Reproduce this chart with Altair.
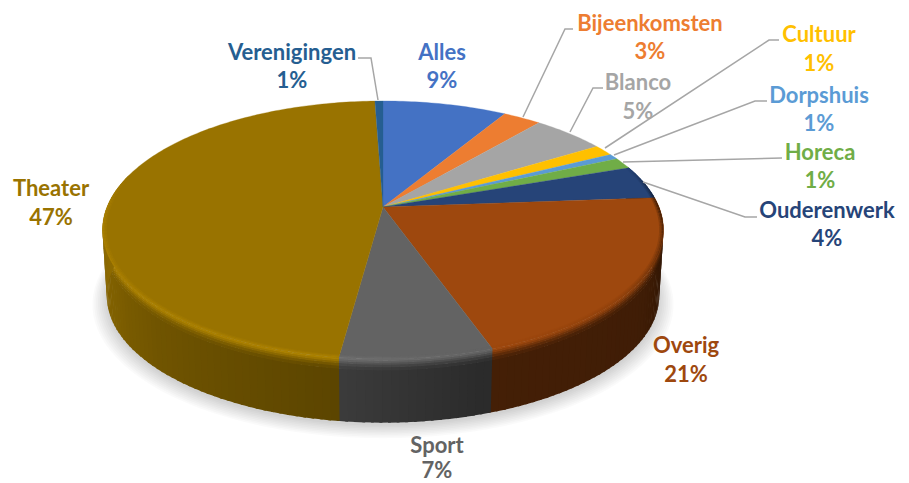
import numpy as np
import altair as alt

# ---- chart values
names = ["Alles", "Bijeenkomsten", "Blanco", "Cultuur", "Dorpshuis", "Horeca",
         "Ouderenwerk", "Overig", "Sport", "Theater", "Verenigingen"]
values = [8.5, 2.6, 5.0, 1.4, 0.7, 1.4, 4.2, 20.85, 7.45, 47.35, 0.55]
labels = ["9%", "3%", "5%", "1%", "1%", "1%", "4%", "21%", "7%", "47%", "1%"]
colors = ["#4472c4", "#ed7d31", "#a5a5a5", "#ffc000", "#5b9bd5", "#70ad47",
          "#264478", "#9e480e", "#636363", "#997300", "#255e91"]

# ---- label placement (page pixels): centre x, name y, percent y
label_x = [442, 650, 638, 819, 819, 820, 827, 686, 437, 51, 292]
name_y = [53, 24, 83, 35, 96, 153, 211, 346, 446, 189, 53]
pct_y = [81, 52, 112, 64, 124, 181, 239, 375, 471, 218, 81]

# ---- leader lines (page pixels)
leaders = {
    "Verenigingen": [(358, 58), (371, 58), (378, 100)],
    "Bijeenkomsten": [(573, 29), (565, 29), (523, 117)],
    "Blanco": [(603, 88), (593, 88), (570, 132)],
    "Cultuur": [(779, 40), (769, 40), (605, 148)],
    "Dorpshuis": [(767, 101), (755, 101), (614, 155)],
    "Horeca": [(782, 158), (623, 162)],
    "Ouderenwerk": [(757, 217), (745, 217), (643, 182)],
}

M = 8  # page margin
X0, Y0, A, B, K = 383 - M, 207 - M, 276.0, 124.9, -0.178
DEPTH, BOT = 66.0, 0.985


def proj(deg, r=1.0):
    t = np.radians(deg)
    u, v = np.sin(t) * r, -np.cos(t) * r
    w = 1 + K * v
    return A * u / w, B * v / w


def top(deg, r=1.0):
    x, y = proj(deg, r)
    return [float(X0 + x), float(Y0 + y)]


def wall(deg, f):
    x, y = proj(deg)
    s = 1 + (BOT - 1) * f
    return [float(X0 + s * x), float(Y0 + s * y + DEPTH * f)]


def shade(hexc, f):
    c = [int(hexc[i:i + 2], 16) for i in (1, 3, 5)]
    return "#%02x%02x%02x" % tuple(int(min(255, max(0, round(v * f)))) for v in c)


def feat(ring, col):
    ring = list(ring) + [ring[0]]
    return {"type": "Feature", "properties": {"c": col},
            "geometry": {"type": "Polygon", "coordinates": [ring]}}


edges = np.concatenate([[0], np.cumsum(values) * 3.6])


def sweep(a, b, step=1.5):
    n = max(2, int(np.ceil((b - a) / step)) + 1)
    return np.linspace(a, b, n)


def wall_f(d):
    return np.interp(d, [80, 92, 100, 120, 162, 188, 225, 245, 270, 285],
                     [.1, .18, .3, .4, .43, .6, .73, .83, .93, .93])


def rim_f(d):
    return np.interp(d, [70, 90, 100, 130, 162, 188, 270, 285],
                     [1, .35, .55, .9, 1.0, 1.12, 1.1, 1])


shadow, walls, faces, rims = [], [], [], []

for i in range(9):
    g = 1 + i * 0.0065
    ring = []
    for d in sweep(0, 360, 3):
        x, y = proj(d)
        ring.append([float(X0 + BOT * g * x), float(Y0 + DEPTH + 3 + i * .6 + BOT * g * y)])
    shadow.append(feat(ring, "#000000"))

for k, col in enumerate(colors):
    a, b = edges[k], edges[k + 1]
    faces.append(feat([[float(X0), float(Y0)]] + [top(d) for d in sweep(a, b, 1)], col))
    lo, hi = max(a, 70), min(b, 285)
    if hi <= lo:
        continue
    ds = sweep(lo, hi, 1.5)
    for d1, d2 in zip(ds[:-1], ds[1:]):
        m = (d1 + d2) / 2
        e2 = d2 + 0.5  # overlap to hide seams; the next quad is drawn over it
        wf, rf = float(wall_f(m)), float(rim_f(m))
        # body of the side wall, with a soft bevel under the rim
        bands = [1, .18, .13, .09, .06, .03, 0]
        facs = [wf, rf * .1 + wf * .9, rf * .3 + wf * .7, rf * .55 + wf * .45,
                rf * .8 + wf * .2, rf]
        for j in range(len(bands) - 1):
            up = max(0, bands[j + 1] - 0.01)
            walls.append(feat([wall(d1, bands[j]), wall(e2, bands[j]),
                               wall(e2, up), wall(d1, up)],
                              shade(col, facs[j])))
        # bevel on the face, just inside the rim
        rr = [.985, .99, .995, 1.0]
        rfac = [1 + (rf - 1) * .3, 1 + (rf - 1) * .65, rf]
        for j in range(3):
            rims.append(feat([top(d1, rr[j]), top(d2, rr[j]),
                               top(d2, rr[j + 1]), top(d1, rr[j + 1])],
                              shade(col, rfac[j])))

PROJ = dict(type="identity", scale=1, translate=[0, 0])
cenc = alt.Color("properties.c:N", scale=None, legend=None)
senc = alt.Stroke("properties.c:N", scale=None, legend=None)


def shapes(feats, width=0.0):
    return alt.Chart(alt.Data(values=feats)).mark_geoshape(strokeWidth=width).encode(
        color=cenc, stroke=senc).project(**PROJ)


shadow_layer = alt.Chart(alt.Data(values=shadow)).mark_geoshape(
    fill="#000000", fillOpacity=0.02, strokeWidth=0).project(**PROJ)

line_rows = []
for nm, pts in leaders.items():
    for o, (px, py) in enumerate(pts):
        line_rows.append({"n": nm, "o": o, "x": px - M, "y": py - M})
lines = alt.Chart(alt.Data(values=line_rows)).mark_line(
    color="#a6a6a6", strokeWidth=1.5).encode(
    x=alt.X("x:Q", scale=None, axis=None),
    y=alt.Y("y:Q", scale=None, axis=None),
    detail="n:N", order="o:Q")

text_rows = [{"name": n, "pct": p, "col": c, "x": x - M, "y1": y1 - M, "y2": y2 - M}
             for n, p, c, x, y1, y2 in zip(names, labels, colors, label_x, name_y, pct_y)]
font = dict(font="Lato", fontWeight="bold", fontSize=22, align="center", baseline="middle")
t1 = alt.Chart(alt.Data(values=text_rows)).mark_text(**font).encode(
    x=alt.X("x:Q", scale=None, axis=None), y=alt.Y("y1:Q", scale=None, axis=None),
    text="name:N", color=alt.Color("col:N", scale=None, legend=None))
t2 = alt.Chart(alt.Data(values=text_rows)).mark_text(**font).encode(
    x=alt.X("x:Q", scale=None, axis=None), y=alt.Y("y2:Q", scale=None, axis=None),
    text="pct:N", color=alt.Color("col:N", scale=None, legend=None))

chart = alt.layer(
    shadow_layer, shapes(walls), shapes(faces, 0.3), shapes(rims), lines, t1, t2
).properties(width=893, height=475, padding=0, background="#ffffff"
).configure_view(stroke=None)

chart.save("out.html", embed_options={"renderer": "svg", "actions": False})
